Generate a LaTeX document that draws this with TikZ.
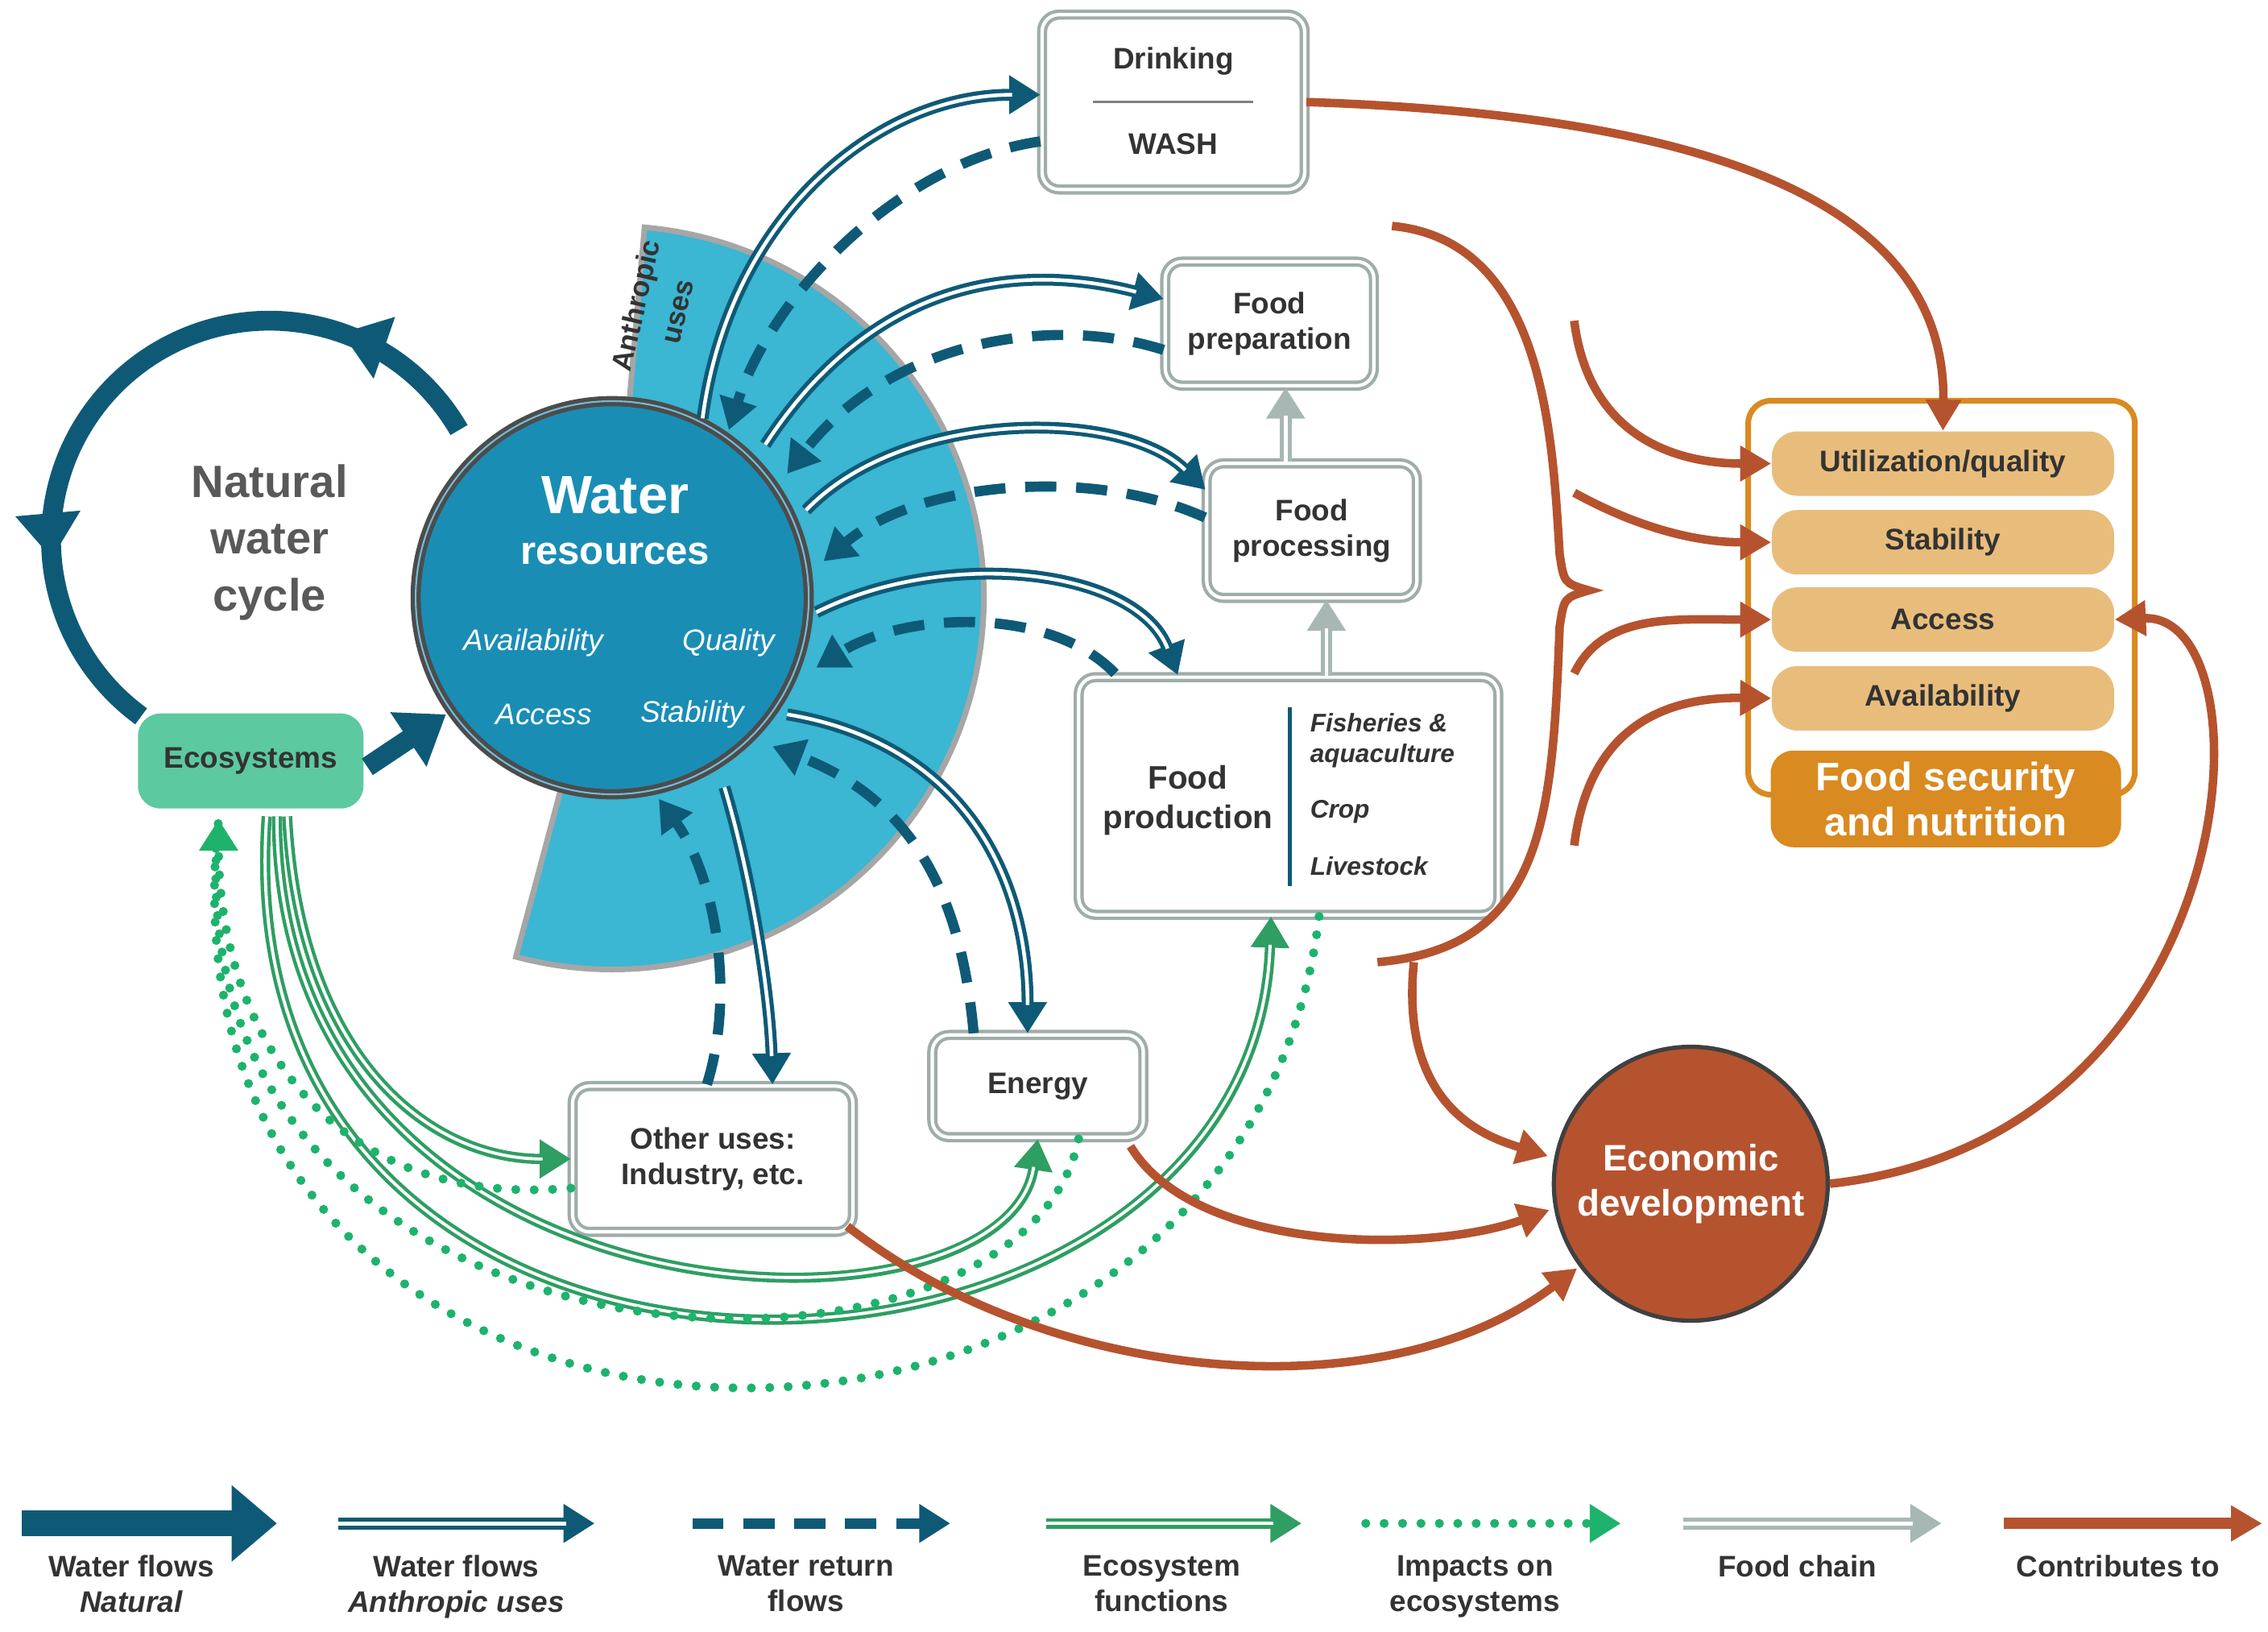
\documentclass[tikz,border=0pt]{standalone}
\usepackage{fontspec}
\setmainfont{Liberation Sans}
\usetikzlibrary{arrows.meta,decorations.markings}
\definecolor{dteal}{HTML}{0E5A76}
\definecolor{wres}{HTML}{1A8DB5}
\definecolor{sect}{HTML}{3BB6D3}
\definecolor{brn}{HTML}{B5532F}
\definecolor{grn}{HTML}{2E9E62}
\definecolor{dgrn}{HTML}{1DB36C}
\definecolor{ecof}{HTML}{5CC9A0}
\definecolor{gry}{HTML}{A7B8B4}
\definecolor{tan}{HTML}{E8BD7C}
\definecolor{orng}{HTML}{D98A20}
\definecolor{txt}{HTML}{333333}
\tikzset{
 box/.style={draw=gry!80!gray, line width=1.2pt, double=white, double distance=1.2pt, rounded corners=6pt, fill=white, align=center, font=\fontsize{10.5}{12.5}\selectfont\bfseries, text=txt},
 nat/.style={draw=dteal, line width=7pt, -{Triangle[length=16pt,width=22pt]}},
 anth/.style={draw=dteal, line width=4.2pt, -{Triangle[length=11pt,width=13pt]}, postaction={draw=white, line width=1.3pt, -, shorten >=10pt}},
 ret/.style={draw=dteal, line width=3.6pt, dash pattern=on 11pt off 7pt, -{Triangle[length=11pt,width=13pt]}},
 eco/.style={draw=grn, line width=3.6pt, -{Triangle[length=11pt,width=13pt]}, postaction={draw=white, line width=1.1pt, -, shorten >=10pt}},
 imp/.style={draw=dgrn, line width=3.2pt, line cap=round, dash pattern=on 0pt off 6.5pt, -{Triangle[length=11pt,width=13pt]}},
 imp0/.style={draw=dgrn, line width=3.2pt, line cap=round, dash pattern=on 0pt off 6.5pt},
 fch/.style={draw=gry, line width=4.2pt, -{Triangle[length=11pt,width=13pt]}, postaction={draw=white, line width=1.3pt, -, shorten >=10pt}},
 con/.style={draw=brn, line width=3pt, -{Triangle[length=11pt,width=12pt]}},
 item/.style={fill=tan, rounded corners=9pt, minimum width=4.25cm, minimum height=0.8cm, font=\fontsize{10.5}{12}\selectfont\bfseries, text=txt},
 leg/.style={font=\fontsize{10.5}{12.5}\selectfont\bfseries, text=txt, align=center, anchor=north},
 alab/.style={rotate=77, inner sep=0pt, font=\fontsize{10}{11}\selectfont\bfseries, text=txt},
}
\begin{document}
\begin{tikzpicture}[x=0.0181cm,y=-0.0181cm]
\useasboundingbox (0,0) rectangle (1556,1119);
% sector
\path[fill=sect, draw=gray!70, line width=2pt] (420,410) -- ++(-85:255) arc[start angle=-85,end angle=105,radius=255] -- cycle;
\node[alab] (anthlab) at (438,210) {Anthropic};
\node[alab] (anthlab2) at (466,214) {uses};
% natural cycle
\draw[draw=dteal, line width=7pt, postaction={decorate}, decoration={markings,
  mark=at position 0.2 with {\arrow{Triangle[length=16pt,width=22pt]}},
  mark=at position 0.76 with {\arrow{Triangle[length=16pt,width=22pt]}}}]
  (185,370) ++(-30:150) arc[start angle=-30,end angle=-234,radius=150];
\node[align=center, font=\fontsize{16}{20}\selectfont\bfseries, text=gray!70!black] (nwc) at (185,372) {Natural\\water\\cycle};
% water resources
\node[circle, fill=wres, draw=gray!60!black, line width=1.5pt, double=wres!60!white, double distance=0.6pt, minimum size=4.88cm] (wr) at (420,410) {};
\node[font=\fontsize{19}{20}\selectfont\bfseries, text=white] (wrt) at (422,340) {Water};
\node[font=\fontsize{14}{16}\selectfont\bfseries, text=white] (wrt2) at (422,380) {resources};
\node[font=\fontsize{10.5}{12}\selectfont\itshape, text=white] (av) at (366,441) {Availability};
\node[font=\fontsize{10.5}{12}\selectfont\itshape, text=white] (qu) at (500,441) {Quality};
\node[font=\fontsize{10.5}{12}\selectfont\itshape, text=white] (ac) at (373,490) {Access};
\node[font=\fontsize{10.5}{12}\selectfont\itshape, text=white] (st) at (475,490) {Stability};
% ecosystems
\node[fill=ecof, rounded corners=8pt, minimum width=2.8cm, minimum height=1.18cm, font=\fontsize{10.5}{12}\selectfont\bfseries, text=txt] (eco) at (172,522) {Ecosystems};
\draw[nat] (252,526) -- (306,490);
% boxes
\node[box, minimum width=3.26cm, minimum height=2.17cm] (drk) at (805,70) {};
\node[font=\fontsize{10.5}{12}\selectfont\bfseries, text=txt] (drk1) at (805,42) {Drinking};
\node[font=\fontsize{10.5}{12}\selectfont\bfseries, text=txt] (drk2) at (805,99) {WASH};
\draw[gray, line width=1pt] (750,70) -- (860,70);
\node[box, minimum width=2.59cm, minimum height=1.54cm] (fprep) at (871,222) {Food\\preparation};
\node[box, minimum width=2.61cm, minimum height=1.67cm] (fproc) at (900,364) {Food\\processing};
\node[box, minimum width=5.21cm, minimum height=2.95cm] (fprod) at (884,546) {};
\node[align=center, font=\fontsize{11.5}{14}\selectfont\bfseries, text=txt] (fpt) at (815,549) {Food\\production};
\draw[dteal, line width=1.3pt] (885,485) -- (885,608);
\node[anchor=west, align=left, font=\fontsize{9}{11}\selectfont\bfseries\itshape, text=txt] (fish) at (892,508) {Fisheries \&\\aquaculture};
\node[anchor=west, font=\fontsize{9}{11}\selectfont\bfseries\itshape, text=txt] (crop) at (892,557) {Crop};
\node[anchor=west, font=\fontsize{9}{11}\selectfont\bfseries\itshape, text=txt] (live) at (892,594) {Livestock};
\node[box, minimum width=2.62cm, minimum height=1.27cm] (en) at (712,745) {Energy};
\node[box, minimum width=3.48cm, minimum height=1.81cm] (oth) at (489,795) {Other uses:\\Industry, etc.};
% food security
\node[draw=orng, line width=2pt, rounded corners=8pt, minimum width=4.8cm, minimum height=4.89cm] (fs) at (1332,410) {};
\node[item] (u) at (1333,318) {Utilization/quality};
\node[item] (s) at (1333,372) {Stability};
\node[item] (a) at (1333,425) {Access};
\node[item] (v) at (1333,479) {Availability};
\node[fill=orng, rounded corners=8pt, minimum width=4.35cm, minimum height=1.2cm, align=center, font=\fontsize{14}{16}\selectfont\bfseries, text=white] (fsl) at (1335,548) {Food security\\and nutrition};
% econ
\node[circle, fill=brn, draw=gray!50!black, line width=1.5pt, minimum size=3.4cm, align=center, font=\fontsize{13}{16}\selectfont\bfseries, text=white] (ed) at (1160,812) {Economic\\development};
% food chain
\draw[fch] (fprod.north -| 910,0) -- (fproc.south -| 910,0);
\draw[fch] (fproc.north -| 882,0) -- (fprep.south -| 882,0);
% anthropic flows
\coordinate (w1) at (482,287); \coordinate (w1r) at (500,295);
\draw[anth] (w1) .. controls (500,150) and (600,65) .. (drk.west |- 0,65);
\draw[ret] (drk.west |- 0,97) .. controls (620,110) and (530,200) .. (w1r);
\coordinate (w2) at (525,305); \coordinate (w2r) at (540,325);
\draw[anth] (w2) .. controls (600,190) and (700,180) .. (fprep.west |- 0,205);
\draw[ret] (fprep.west |- 0,240) .. controls (720,215) and (610,235) .. (w2r);
\coordinate (w3) at (553,350); \coordinate (w3r) at (565,385);
\draw[anth] (w3) .. controls (620,280) and (770,280) .. (827,336);
\draw[ret] (fproc.west |- 0,355) .. controls (750,320) and (630,330) .. (w3r);
\coordinate (w4) at (560,420); \coordinate (w4r) at (560,458);
\draw[anth] (w4) .. controls (650,375) and (780,390) .. (808,463);
\draw[ret] (765,462) .. controls (720,415) and (620,420) .. (w4r);
\coordinate (w5) at (540,490); \coordinate (w5r) at (530,512);
\draw[anth] (w5) .. controls (660,510) and (705,600) .. (en.north -| 705,0);
\draw[ret] (en.north -| 668,0) .. controls (660,620) and (630,550) .. (w5r);
\coordinate (w6) at (497,540); \coordinate (w6r) at (452,548);
\draw[anth] (w6) .. controls (515,600) and (528,680) .. (oth.north -| 530,0);
\draw[ret] (oth.north -| 485,0) .. controls (505,680) and (490,600) .. (w6r);
% ecosystem functions
\coordinate (e1) at (197,560); \coordinate (e2) at (190,560); \coordinate (e3) at (183,560);
\coordinate (ei) at (150,562);
\draw[eco] (e1) .. controls (205,720) and (290,795) .. (oth.west |- 0,795);
\draw[eco] (e2) .. controls (190,920) and (690,930) .. (en.south -| 712,0);
\draw[eco] (e3) .. controls (150,1020) and (860,990) .. (fprod.south -| 872,0);
\draw[imp] (oth.west |- 0,815) .. controls (220,830) and (150,700) .. (ei);
\draw[imp0] (en.south -| 740,0) .. controls (700,980) and (110,960) .. (ei);
\draw[imp0] (fprod.south -| 905,0) .. controls (850,1080) and (95,1060) .. (ei);
% contributes
\draw[con] (drk.east |- 0,70) .. controls (1200,80) and (1335,150) .. (u.north);
\draw[brn, line width=3pt] (955,155) .. controls (1060,165) and (1065,300) .. (1070,380) .. controls (1073,400) .. (1090,405) .. controls (1073,410) .. (1070,430) .. controls (1065,560) and (1060,650) .. (945,660);
\draw[con] (1080,220) .. controls (1090,300) and (1150,318) .. (u.west);
\draw[con] (1080,338) .. controls (1120,360) and (1160,372) .. (s.west);
\draw[con] (1080,462) .. controls (1100,420) and (1150,425) .. (a.west);
\draw[con] (1080,580) .. controls (1090,500) and (1140,478) .. (v.west);
\draw[con] (970,660) .. controls (960,760) and (1020,780) .. (1062,793);
\draw[con] (en.south east) ++(-10,5) .. controls (820,860) and (980,860) .. (1063,830);
\draw[con] (oth.south east) ++(-5,-5) .. controls (720,950) and (950,970) .. (1082,870);
\draw[con] (ed.east) .. controls (1545,780) and (1560,420) .. (a.east);
% legend
\coordinate (l1a) at (15,1045); \coordinate (l1b) at (190,1045);
\draw[draw=dteal, line width=9pt, -{Triangle[length=16pt,width=26pt]}] (l1a) -- (l1b);
\coordinate (l2a) at (232,1045); \coordinate (l2b) at (408,1045);
\draw[anth] (l2a) -- (l2b);
\coordinate (l3a) at (475,1045); \coordinate (l3b) at (652,1045);
\draw[ret] (l3a) -- (l3b);
\coordinate (l4a) at (718,1045); \coordinate (l4b) at (893,1045);
\draw[eco] (l4a) -- (l4b);
\coordinate (l5a) at (937,1045); \coordinate (l5b) at (1112,1045);
\draw[imp] (l5a) -- (l5b);
\coordinate (l6a) at (1155,1045); \coordinate (l6b) at (1332,1045);
\draw[fch] (l6a) -- (l6b);
\coordinate (l7a) at (1375,1045); \coordinate (l7b) at (1552,1045);
\draw[con, line width=4pt] (l7a) -- (l7b);
\node[leg] (t1) at (90,1060) {Water flows\\\itshape Natural};
\node[leg] (t2) at (313,1060) {Water flows\\\itshape Anthropic uses};
\node[leg] (t3) at (553,1060) {Water return\\flows};
\node[leg] (t4) at (797,1060) {Ecosystem\\functions};
\node[leg] (t5) at (1012,1060) {Impacts on\\ecosystems};
\node[leg] (t6) at (1233,1060) {Food chain};
\node[leg] (t7) at (1453,1060) {Contributes to};
\end{tikzpicture}
\end{document}
